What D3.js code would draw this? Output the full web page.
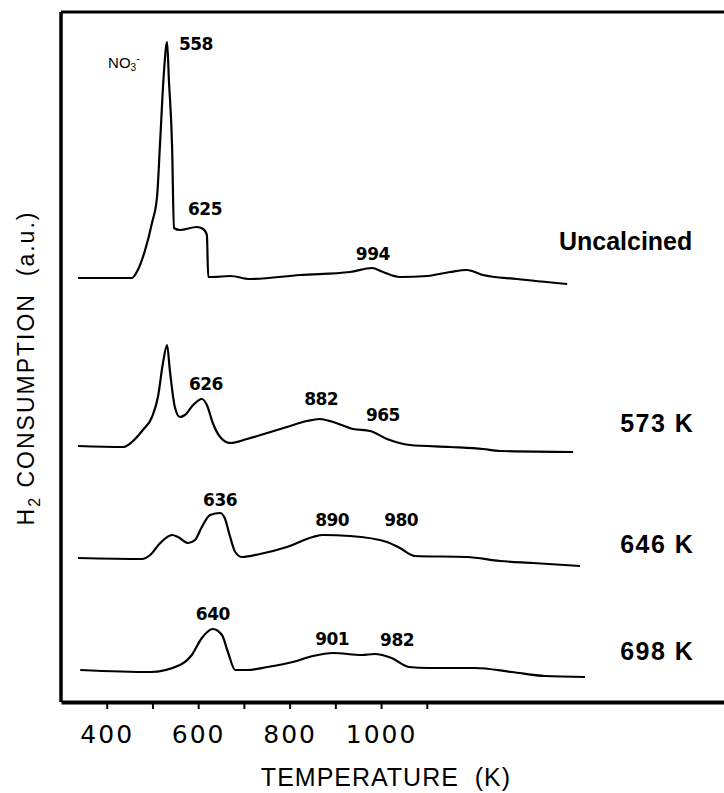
<!DOCTYPE html>
<html>
<head>
<meta charset="utf-8">
<script src="https://cdn.jsdelivr.net/npm/d3@7"></script>
<style>
  body { margin: 0; background: #fff; }
  svg { display: block; }
  text { fill: #000; }
</style>
</head>
<body>
<svg id="chart" width="724" height="793"></svg>
<script>
// TPR traces, temperature in K, H2 consumption in a.u. above each trace's own baseline
var temps = {
  uncalcined: [337, 455, 468, 484, 499, 510, 517, 525, 532, 536, 543, 547, 560, 597, 611, 619, 622, 632, 670, 713, 823, 932, 980, 1004, 1041, 1101, 1151, 1188, 1223, 1297, 1407],
  k573: [337, 436, 455, 479, 499, 512, 523, 532, 538, 549, 560, 571, 589, 608, 619, 632, 648, 670, 707, 751, 794, 838, 866, 895, 939, 976, 1013, 1063, 1151, 1223, 1260, 1420],
  k646: [337, 477, 495, 517, 543, 556, 578, 593, 608, 626, 648, 658, 670, 681, 696, 735, 794, 851, 873, 932, 1013, 1041, 1074, 1188, 1260, 1332, 1435],
  k698: [342, 495, 560, 586, 608, 632, 652, 665, 681, 707, 751, 807, 851, 895, 958, 986, 1023, 1061, 1104, 1205, 1286, 1359, 1446]
}
var values = {
  uncalcined: [0, 0, 8, 28, 55, 81, 138, 205, 236, 198, 131, 50, 48, 51, 49, 43, 1, 1, 2, -1, 3, 6, 10, 6, 1, 2, 6, 8, 3, -1, -6],
  k573: [1, 0, 5, 17, 30, 50, 84, 102, 77, 40, 30, 32, 42, 48, 42, 24, 10, 4, 8, 14, 20, 26, 28, 25, 18, 16, 8, 2, 0, -2, -4, -5],
  k646: [0, -1, 3, 15, 23, 21, 15, 18, 31, 43, 45, 40, 21, 6, 1, 4, 11, 21, 23, 22, 16, 10, 2, 1, -3, -5, -8],
  k698: [0, -2, 5, 15, 32, 41, 35, 18, 0, 0, 3, 8, 14, 17, 15, 16, 12, 3, 2, 2, -2, -6, -7]
}
var seriesKeys = ['uncalcined', 'k573', 'k646', 'k698']
var seriesNames = ['Uncalcined', '573 K', '646 K', '698 K']
var seriesOffsets = [424, 255, 144, 32]

// peak annotations (T in K, height in a.u.)
var peakTexts = ['558', '625', '994', '626', '882', '965', '636', '890', '980', '640', '901', '982']
var peakT = [595, 615, 982, 617, 869, 1004, 648, 893, 1044, 632, 893, 1035]
var peakH = [652, 487, 442, 312, 297, 281, 196, 176, 176, 82, 57, 56]

var xTicks = [400, 500, 600, 700, 800, 900, 1000, 1100]
var xTickLabels = [400, 600, 800, 1000]

var svg = d3.select('#chart')

var x = d3.scaleLinear().domain([300, 1750]).range([61, 724])
var y = d3.scaleLinear().domain([0, 690]).range([702, 12])

// frame: left and top lines
svg.append('line')
  .attr('x1', x(300)).attr('x2', x(300))
  .attr('y1', y(690)).attr('y2', y(0))
  .attr('stroke', '#000').attr('stroke-width', 3.5)
svg.append('line')
  .attr('x1', x(300)).attr('x2', 724)
  .attr('y1', y(690)).attr('y2', y(690))
  .attr('stroke', '#000').attr('stroke-width', 3)

// bottom axis
var xAxis = d3.axisBottom(x)
  .tickValues(xTicks)
  .tickSize(7)
  .tickSizeOuter(0)
  .tickPadding(16)
  .tickFormat(function (d) { return xTickLabels.indexOf(d) >= 0 ? d : '' })

var gx = svg.append('g')
  .attr('transform', 'translate(0,' + y(0) + ')')
  .call(xAxis)
gx.select('.domain').attr('stroke', '#000').attr('stroke-width', 4)
gx.selectAll('.tick line').attr('stroke', '#000').attr('stroke-width', 2)
gx.selectAll('.tick text')
  .attr('font-family', 'DejaVu Sans, sans-serif')
  .attr('font-size', 25)
  .attr('letter-spacing', 2)
  .attr('fill', '#000')

svg.append('text')
  .attr('x', 386).attr('y', 786)
  .attr('text-anchor', 'middle')
  .attr('font-family', 'Liberation Sans, Arial, sans-serif')
  .attr('font-size', 25)
  .attr('letter-spacing', 1)
  .style('white-space', 'pre')
  .text('TEMPERATURE  (K)')

var ytitle = svg.append('text')
  .attr('transform', 'translate(34,368) rotate(-90)')
  .attr('text-anchor', 'middle')
  .attr('font-family', 'Liberation Sans, Arial, sans-serif')
  .attr('font-size', 23)
  .attr('letter-spacing', 2)
  .style('white-space', 'pre')
ytitle.append('tspan').text('H')
ytitle.append('tspan').attr('font-size', 16).attr('dy', 6).text('2')
ytitle.append('tspan').attr('dy', -6).text(' CONSUMPTION  (a.u.)')

// traces
var line = d3.line()
  .x(function (d) { return x(d[0]) })
  .y(function (d) { return y(d[1]) })
  .curve(d3.curveMonotoneX)

seriesKeys.forEach(function (k, i) {
  var pts = temps[k].map(function (t, j) { return [t, values[k][j] + seriesOffsets[i]] })
  svg.append('path')
    .datum(pts)
    .attr('d', line)
    .attr('fill', 'none')
    .attr('stroke', '#000')
    .attr('stroke-width', 2.2)
    .attr('stroke-linejoin', 'round')
})

// series names on the right
var nameT = [1389, 1523, 1523, 1523]
var nameH = [452, 270, 149, 42]
svg.selectAll('.sname')
  .data(seriesNames)
  .enter().append('text')
  .attr('class', 'sname')
  .attr('x', function (d, i) { return x(nameT[i]) })
  .attr('y', function (d, i) { return y(nameH[i]) })
  .attr('font-family', 'Liberation Sans, Arial, sans-serif')
  .attr('font-weight', 'bold')
  .attr('font-size', 25)
  .attr('letter-spacing', function (d, i) { return i === 0 ? 0 : 1.5 })
  .style('white-space', 'pre')
  .text(function (d) { return d })

// peak temperatures
svg.selectAll('.peak')
  .data(peakTexts)
  .enter().append('text')
  .attr('class', 'peak')
  .attr('x', function (d, i) { return x(peakT[i]) })
  .attr('y', function (d, i) { return y(peakH[i]) })
  .attr('text-anchor', 'middle')
  .attr('font-family', 'DejaVu Sans, sans-serif')
  .attr('font-weight', 'bold')
  .attr('font-size', 17)
  .attr('letter-spacing', -0.5)
  .text(function (d) { return d })

// nitrate label
var no3 = svg.append('text')
  .attr('x', x(403)).attr('y', y(634))
  .attr('font-family', 'Liberation Sans, Arial, sans-serif')
  .attr('font-size', 15)
no3.append('tspan').text('NO')
no3.append('tspan').attr('font-size', 10).attr('dy', 3).text('3')
no3.append('tspan').attr('font-size', 11).attr('dy', -9).text('-')
</script>
</body>
</html>
